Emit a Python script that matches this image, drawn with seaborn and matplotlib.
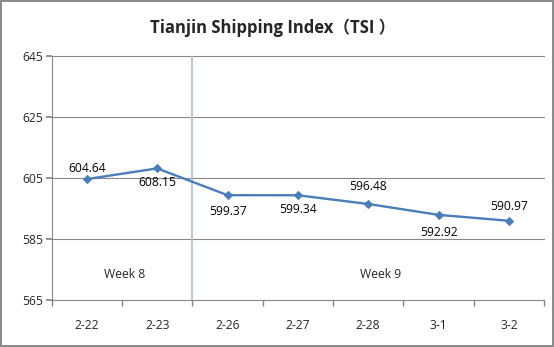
import matplotlib
matplotlib.use("Agg")
import matplotlib.pyplot as plt
import seaborn as sns
import pandas as pd
import numpy as np

dates = ["2-22", "2-23", "2-26", "2-27", "2-28", "3-1", "3-2"]
values = [604.64, 608.15, 599.37, 599.34, 596.48, 592.92, 590.97]
label_offsets = [11, -14, -16, -14, 17, -18, 14]  # pixels, + above
yticks = [565, 585, 605, 625, 645]
title = "Tianjin Shipping Index（TSI ）"

sns.set_theme(style="white")
plt.rcParams['font.family'] = ['Open Sans', 'Noto Sans CJK SC', 'DejaVu Sans']

dpi = 100
fig = plt.figure(figsize=(5.54, 3.47), dpi=dpi)
fig.patch.set_facecolor("white")
fig.patch.set_edgecolor("#8c8c8c")
fig.patch.set_linewidth(1.5)

ax = fig.add_axes([51.7/554, 1-300/347, (544-51.7)/554, (300-56)/347])

df = pd.DataFrame({"x": np.arange(len(dates)), "value": values})
grid_c = "#868686"
for y in yticks[1:]:
    ax.axhline(y, color=grid_c, lw=0.8, zorder=1, clip_on=False)
ax.axvline(1.5, color="#a8c1da", lw=1.2, zorder=1)

sns.lineplot(data=df, x="x", y="value", ax=ax, color="#4a7ebb", lw=1.7,
             marker="D", markersize=4, markeredgecolor="#4a7ebb", zorder=3)

for i, (v, off) in enumerate(zip(values, label_offsets)):
    ax.annotate(f"{v:.2f}", (i, v), xytext=(0, off*72/dpi), textcoords="offset points",
                ha="center", va="center", fontsize=8.7, color="black")

ax.text(0.53, 573.5, "Week 8", ha="center", va="center", fontsize=8.7)
ax.text(4.17, 573.5, "Week 9", ha="center", va="center", fontsize=8.7)

ax.set_xlim(-0.5, len(dates)-0.5)
ax.set_ylim(565, 645)
ax.set_yticks(yticks)
ax.set_yticklabels([str(y) for y in yticks], fontsize=8.7)
ax.set_xticks(np.arange(len(dates)))
ax.set_xticklabels(dates, fontsize=8.7)
ax.set_xticks(np.arange(len(dates)+1) - 0.5, minor=True)
ax.tick_params(axis="x", which="major", length=0, pad=14)
ax.tick_params(axis="x", which="minor", length=4, color=grid_c, direction="out", bottom=True)
ax.tick_params(axis="y", which="major", length=4, color=grid_c, direction="out", left=True, pad=2)
ax.set_xlabel("")
ax.set_ylabel("")
for s in ["top", "right"]:
    ax.spines[s].set_visible(False)
for s in ["left", "bottom"]:
    ax.spines[s].set_color(grid_c)
    ax.spines[s].set_linewidth(0.8)

fig.text(273/554, 1-28/347, title, ha="center", va="center", fontsize=12, fontweight="bold")

fig.savefig("out.png", dpi=dpi)
